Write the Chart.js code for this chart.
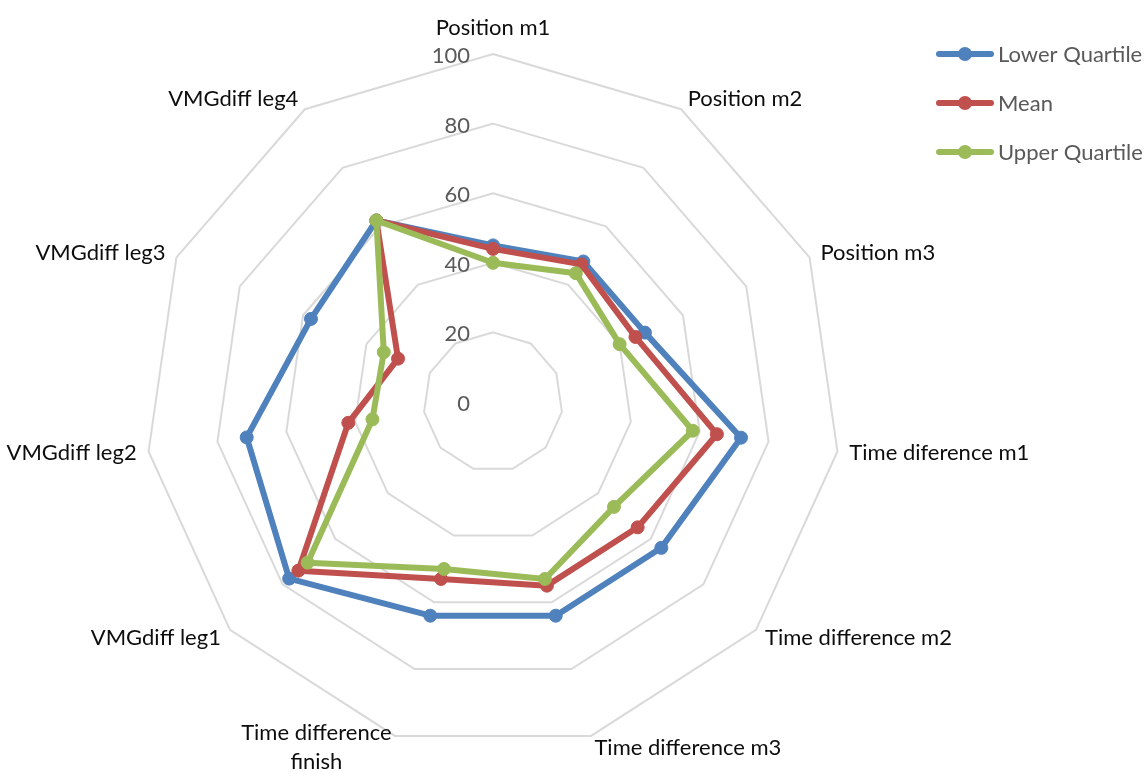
<!DOCTYPE html>
<html>
<head>
<meta charset="utf-8">
<script src="https://cdn.jsdelivr.net/npm/chart.js@4"></script>
<style>
  html, body { margin: 0; padding: 0; background: #fff; }
</style>
</head>
<body>
<canvas id="myChart" width="1148" height="772"></canvas>
<script>
// Data
const categories = ['Position m1', 'Position m2', 'Position m3', 'Time diference m1',
  'Time difference m2', 'Time difference m3', ['Time difference', 'finish'],
  'VMGdiff leg1', 'VMGdiff leg2', 'VMGdiff leg3', 'VMGdiff leg4'];
const lowerQuartile = [45, 48, 48, 72, 64, 64, 64, 77.5, 71.5, 57.5, 62];
const mean = [44, 47, 45, 65, 55, 55, 53, 74, 42, 30, 62];
const upperQuartile = [40, 44, 40, 58, 46, 53, 50, 70.5, 35, 34.5, 62];
const seriesNames = ['Lower Quartile', 'Mean', 'Upper Quartile'];
const seriesColors = ['#4F81BD', '#C0504D', '#9BBB59'];

const FONT = 'Lato, "Noto Sans", sans-serif';
const FONT_SIZE = 22;

function makeSet(i, values) {
  return {
    label: seriesNames[i],
    data: values,
    borderColor: seriesColors[i],
    backgroundColor: seriesColors[i],
    pointBackgroundColor: seriesColors[i],
    pointBorderColor: seriesColors[i],
    borderWidth: 6,
    pointRadius: 6.5,
    pointBorderWidth: 1,
    borderJoinStyle: 'round',
    fill: false,
    order: 3 - i // last series drawn on top, like Excel
  };
}

// Excel-style tick labels, category labels and legend
const excelLook = {
  id: 'excelLook',
  beforeDatasetsDraw(chart) {
    const r = chart.scales.r;
    const ctx = chart.ctx;
    ctx.save();
    ctx.font = FONT_SIZE + 'px ' + FONT;
    ctx.fillStyle = '#595959';
    ctx.textAlign = 'right';
    ctx.textBaseline = 'middle';
    r.ticks.forEach(t => {
      const d = r.getDistanceFromCenterForValue(t.value);
      ctx.fillText(String(t.value), r.xCenter - 23, r.yCenter - d + 2);
    });
    ctx.restore();
  },
  afterDraw(chart) {
    const r = chart.scales.r;
    const ctx = chart.ctx;
    ctx.save();
    ctx.font = FONT_SIZE + 'px ' + FONT;
    ctx.fillStyle = '#0d0d0d';
    ctx.textAlign = 'center';
    ctx.textBaseline = 'middle';
    const lh = 29;
    chart.data.labels.forEach((label, i) => {
      const p = r.getPointPosition(i, r.drawingArea + 12);
      const lines = Array.isArray(label) ? label : [label];
      const w = Math.max(...lines.map(l => ctx.measureText(l).width));
      let cx = p.x;
      if (p.x > r.xCenter + 1) cx = p.x + w / 2;
      else if (p.x < r.xCenter - 1) cx = p.x - w / 2;
      let top = p.y - lines.length * lh / 2;
      if (Math.abs(p.x - r.xCenter) <= 1 && p.y < r.yCenter) top = p.y - lines.length * lh;
      lines.forEach((l, k) => ctx.fillText(l, cx, top + lh * (k + 0.5)));
    });

    // legend
    ctx.textAlign = 'left';
    chart.data.datasets.forEach((ds, k) => {
      const y = 54 + k * 49;
      ctx.strokeStyle = ds.borderColor;
      ctx.lineWidth = 6;
      ctx.lineCap = 'round';
      ctx.beginPath();
      ctx.moveTo(939, y);
      ctx.lineTo(991, y);
      ctx.stroke();
      ctx.fillStyle = ds.borderColor;
      ctx.beginPath();
      ctx.arc(965, y, 7, 0, Math.PI * 2);
      ctx.fill();
      ctx.fillStyle = '#595959';
      ctx.fillText(ds.label, 998, y + 1);
    });
    ctx.restore();
  }
};

const ctx = document.getElementById('myChart').getContext('2d');
const myChart = new Chart(ctx, {
  type: 'radar',
  data: {
    labels: categories,
    datasets: [makeSet(0, lowerQuartile), makeSet(1, mean), makeSet(2, upperQuartile)]
  },
  options: {
    responsive: false,
    animation: false,
    layout: { padding: { left: 145, right: 307, top: 54, bottom: 22 } },
    plugins: { legend: { display: false }, tooltip: { enabled: false } },
    scales: {
      r: {
        min: 0,
        max: 100,
        ticks: { stepSize: 20, display: false },
        grid: { color: '#D9D9D9', lineWidth: 2 },
        angleLines: { display: false },
        pointLabels: { display: false }
      }
    }
  },
  plugins: [excelLook]
});
</script>
</body>
</html>
